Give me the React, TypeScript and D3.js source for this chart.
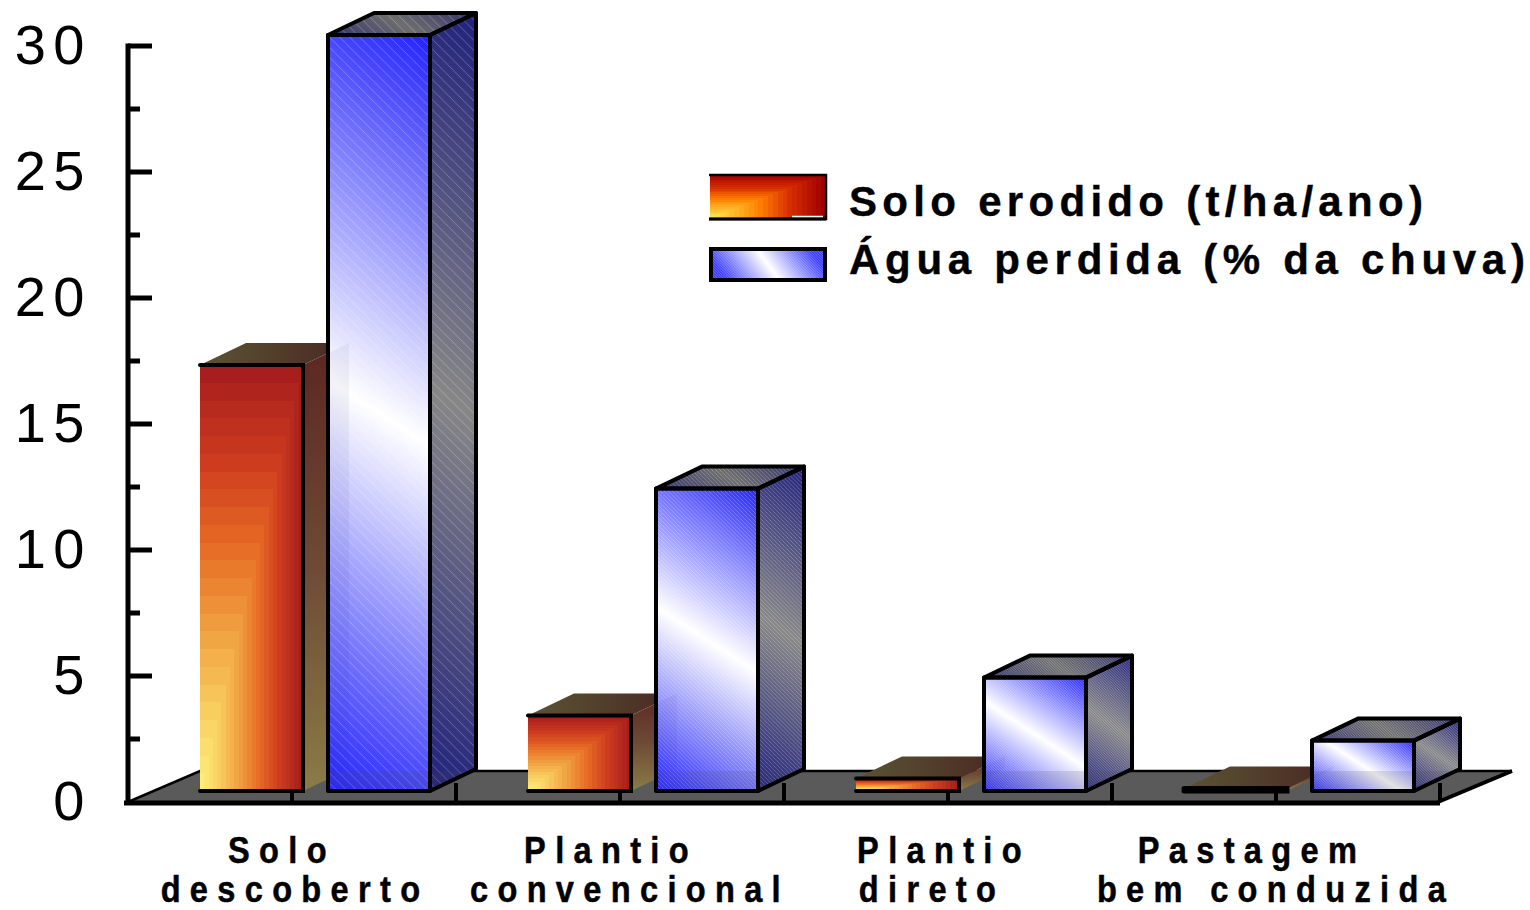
import React from "react";
import * as d3 from "d3";

// Erosion results per soil-management system
const categories = ["Solo descoberto", "Plantio convencional", "Plantio direto", "Pastagem bem conduzida"];
const categoryLines = [["Solo", "descoberto"], ["Plantio", "convencional"], ["Plantio", "direto"], ["Pastagem", "bem conduzida"]];
const firstLineNudge = [-10, -9, -4, -24];
const secondLineNudge = [3, 10, -16, 0];
const soilLoss = [16.9, 3, 0.5, 0.1];
const waterLoss = [30, 12, 4.5, 2];
const yTicks = [0, 5, 10, 15, 20, 25, 30];
const yMinorTicks = [2.5, 7.5, 12.5, 17.5, 22.5, 27.5];
const legendLabels = ["Solo erodido (t/ha/ano)", "Água perdida (% da chuva)"];
const legendSpacing = [5.3, 5.7];

const W = 1530, H = 910;
const axisX = 128, plotRight = 1440, floorY = 802, axisTop = 46;
const barLift = 11;
const barDx = 46, barDy = 22;
const floorDx = 72, floorDy = 31;
const font = "'Liberation Sans', Arial, sans-serif";

const y = d3.scaleLinear().domain([0, 30]).range([floorY, axisTop]);
const x = d3.scaleBand<string>().domain(categories).range([axisX, plotRight + 0]);
const seriesX = (c: string, s: number) => (x(c) as number) + 72 + s * 128;
const barW = 103;

const barRamp = d3.scaleLinear<string>()
  .domain([0, 0.2, 0.4, 0.6, 0.8, 1])
  .range(["#fff47c", "#f8d060", "#f0a040", "#e66a24", "#cc3a1e", "#a81e1e"]);
const legendRamp = d3.scaleLinear<string>()
  .domain([0, 0.2, 0.45, 0.7, 1])
  .range(["#fff060", "#ffc030", "#ff8000", "#d83000", "#a00000"]);
const steps = d3.range(24, 0, -1).map((i) => i / 24);

const poly = (pts: number[][]) => pts.map((p) => p.join(",")).join(" ");

// End points of a diagonal gradient across a box, with iso-lines of the given slope
function diag(bx: number, by: number, w: number, h: number, slope = 0.65) {
  const n = Math.hypot(slope, 1);
  const nx = slope / n, ny = -1 / n;
  const ext = (nx * w) / 2 + (-ny * h) / 2;
  const cx = bx + w / 2, cy = by + h / 2;
  return { x1: cx - nx * ext, y1: cy - ny * ext, x2: cx + nx * ext, y2: cy + ny * ext, gradientUnits: "userSpaceOnUse" as const };
}

function Steps({ bx, by, w, h, ramp }: { bx: number; by: number; w: number; h: number; ramp: (t: number) => string }) {
  return (
    <g shapeRendering="crispEdges">
      {steps.map((t) => (
        <rect key={t} x={bx} y={by + h - h * t} width={w * t} height={h * t} fill={ramp(t)} />
      ))}
    </g>
  );
}

function Stops({ edge, mid, inset = 0 }: { edge: string; mid: string; inset?: number }) {
  return (
    <>
      <stop offset={inset} stopColor={edge} />
      <stop offset="0.5" stopColor={mid} />
      <stop offset={1 - inset} stopColor={edge} />
    </>
  );
}

function SoilBar({ c, i }: { c: string; i: number }) {
  const x0 = seriesX(c, 0);
  const base = y(0) - barLift;
  const top = y(soilLoss[i]) - barLift;
  const h = base - top;
  const x1 = x0 + barW;
  const sideId = `soilSide${i}`, topId = `soilTop${i}`;
  return (
    <g>
      <defs>
        <linearGradient id={sideId} gradientUnits="userSpaceOnUse" x1={0} y1={base} x2={0} y2={top - barDy}>
          <stop offset="0" stopColor="#8a7c46" />
          <stop offset="0.5" stopColor="#6e4a36" />
          <stop offset="1" stopColor="#5c2620" />
        </linearGradient>
        <linearGradient id={topId} gradientUnits="userSpaceOnUse" x1={x0} y1={0} x2={x1 + barDx} y2={0}>
          <stop offset="0" stopColor="#5a5434" />
          <stop offset="1" stopColor="#4a2822" />
        </linearGradient>
      </defs>
      <polygon points={poly([[x1, top], [x1 + barDx, top - barDy], [x1 + barDx, base - barDy], [x1, base]])} fill={`url(#${sideId})`} />
      <polygon points={poly([[x0, top], [x0 + barDx, top - barDy], [x1 + barDx, top - barDy], [x1, top]])} fill={`url(#${topId})`} />
      {h > 3 && <Steps bx={x0} by={top} w={barW} h={h} ramp={barRamp} />}
      <path d={`M${x0},${top}H${x1}V${base}H${x0}`} fill="none" stroke="#000" strokeWidth={h > 3 ? 4 : 5} strokeLinecap="round" />
    </g>
  );
}

function WaterBar({ c, i }: { c: string; i: number }) {
  const x0 = seriesX(c, 1);
  const base = y(0) - barLift;
  const top = y(waterLoss[i]) - barLift;
  const h = base - top;
  const x1 = x0 + barW - 1;
  const w = x1 - x0;
  const front = poly([[x0, top], [x1, top], [x1, base], [x0, base]]);
  const side = poly([[x1, top], [x1 + barDx, top - barDy], [x1 + barDx, base - barDy], [x1, base]]);
  const cap = poly([[x0, top], [x0 + barDx, top - barDy], [x1 + barDx, top - barDy], [x1, top]]);
  const hatch = Math.max(2.6, h / 75);
  const soilX1 = seriesX(c, 0) + barW;
  const soilTop = y(soilLoss[i]) - barLift;
  const behind = poly([[soilX1, soilTop], [soilX1 + barDx, soilTop - barDy], [soilX1 + barDx, base - barDy], [soilX1, base]]);
  const floorBack = floorY - floorDy;
  return (
    <g>
      <defs>
        <linearGradient id={`wf${i}`} {...diag(x0, top, w, h)}><Stops edge="#2222ff" mid="#ffffff" /></linearGradient>
        <linearGradient id={`ws${i}`} {...diag(x1, top - barDy, barDx, h + barDy)}><Stops edge="#20207c" mid="#878787" /></linearGradient>
        <linearGradient id={`wt${i}`} {...diag(x0, top - barDy, w + barDx, barDy)}><Stops edge="#30306c" mid="#6e6e6e" /></linearGradient>
        <pattern id={`wh${i}`} patternUnits="userSpaceOnUse" width={hatch} height={hatch}>
          <path d={`M0,0L${hatch},${hatch}`} stroke="#fff" strokeOpacity={0.38} strokeWidth={0.7} />
        </pattern>
        <clipPath id={`wc${i}`}><polygon points={front} /><polygon points={side} /></clipPath>
        <clipPath id={`wcf${i}`}><polygon points={front} /></clipPath>
      </defs>
      <polygon points={side} fill={`url(#ws${i})`} />
      <polygon points={cap} fill={`url(#wt${i})`} />
      <polygon points={front} fill={`url(#wf${i})`} />
      <polygon points={side} fill={`url(#wh${i})`} />
      <polygon points={cap} fill={`url(#wh${i})`} />
      <polygon points={front} fill={`url(#wh${i})`} />
      {/* Faint see-through of the neighbouring bar and the floor behind this one */}
      <polygon points={behind} fill="#303070" fillOpacity={0.06} clipPath={`url(#wcf${i})`} />
      <rect x={x0} y={floorBack} width={w + barDx} height={base - floorBack} fill="#505050" fillOpacity={0.16} clipPath={`url(#wc${i})`} />
      <g fill="none" stroke="#000" strokeWidth={4} strokeLinejoin="round">
        <polygon points={side} />
        <polygon points={cap} />
        <polygon points={front} />
      </g>
    </g>
  );
}

// Bold label squeezed horizontally, with open tracking between the letters
function CategoryLine({ px, py, text }: { px: number; py: number; text: string }) {
  return (
    <text transform={`translate(${px},${py}) scale(0.88,1)`} fontFamily={font} fontWeight="bold" fontSize={37} letterSpacing={10.6} textAnchor="middle" fill="#000" stroke="#000" strokeWidth={0.5}>
      {text}
    </text>
  );
}

export default function App() {
  const base = y(0);
  const back = base - floorDy;
  const xTicks = d3.range(0, 8).map((k) => axisX + (x.step() / 2) * (k + 1));
  return (
    <svg width={W} height={H} viewBox={`0 0 ${W} ${H}`} style={{ position: "absolute", left: 0, top: 0, background: "#fff" }}>
      <defs>
        <linearGradient id="legendWater" {...diag(710, 248, 116, 33, 1.4)}><Stops edge="#3a3aff" mid="#ffffff" inset={0.12} /></linearGradient>
        <pattern id="legendHatch" patternUnits="userSpaceOnUse" width={2.6} height={2.6}>
          <path d="M0,0L2.6,2.6" stroke="#fff" strokeOpacity={0.35} strokeWidth={0.7} />
        </pattern>
      </defs>

      {/* Floor of the 3D plot */}
      <polygon points={poly([[axisX, base], [axisX + floorDx, back], [plotRight + floorDx, back], [plotRight, base]])} fill="#5a5a5a" />
      <path d={`M${axisX},${base}L${axisX + floorDx},${back}H${plotRight + floorDx}`} fill="none" stroke="#000" strokeWidth={2.5} />
      <path d={`M${plotRight + floorDx},${back}L${plotRight - 2},${base}`} fill="none" stroke="#000" strokeWidth={4} />
      {xTicks.map((t) => (
        <line key={t} x1={t} x2={t} y1={base - 19} y2={base} stroke="#000" strokeWidth={4} />
      ))}
      <line x1={axisX - 4} x2={plotRight} y1={base + 1} y2={base + 1} stroke="#000" strokeWidth={5} />

      {/* Y axis */}
      <line x1={axisX} x2={axisX} y1={axisTop - 2.5} y2={base + 3} stroke="#000" strokeWidth={5} />
      {yTicks.slice(1).map((t) => (
        <line key={t} x1={axisX} x2={axisX + 24} y1={y(t)} y2={y(t)} stroke="#000" strokeWidth={5} />
      ))}
      {yMinorTicks.map((t) => (
        <line key={t} x1={axisX} x2={axisX + 12} y1={y(t)} y2={y(t)} stroke="#000" strokeWidth={5} />
      ))}
      {yTicks.map((t) => (
        <text key={t} x={92} y={y(t) + 18} textAnchor="end" fontFamily={font} fontSize={56} letterSpacing={7.5} fill="#000">{t}</text>
      ))}

      {/* Paired 3D bars */}
      {categories.map((c, i) => (
        <g key={c}>
          <SoilBar c={c} i={i} />
          <WaterBar c={c} i={i} />
        </g>
      ))}

      {/* Category labels */}
      {categoryLines.map((lines, i) => {
        const tick = (x(categories[i]) as number) + x.bandwidth() / 2;
        return (
          <g key={i}>
            <CategoryLine px={tick + firstLineNudge[i]} py={863} text={lines[0]} />
            <CategoryLine px={tick + secondLineNudge[i]} py={902} text={lines[1]} />
          </g>
        );
      })}

      {/* Legend */}
      <Steps bx={710} by={174} w={116} h={44} ramp={legendRamp} />
      <path d="M709,175H826V219H709" fill="none" stroke="#000" strokeWidth={2.5} />
      <line x1={709} x2={826} y1={219} y2={219} stroke="#000" strokeWidth={3} />
      <line x1={792} x2={823} y1={216.5} y2={216.5} stroke="#fff" strokeWidth={1.5} />
      <rect x={711} y={249} width={114} height={31} fill="url(#legendWater)" stroke="#000" strokeWidth={4} />
      <rect x={713} y={251} width={110} height={27} fill="url(#legendHatch)" />
      <g fontFamily={font} fontWeight="bold" fontSize={42} fill="#000" stroke="#000" strokeWidth={0.4}>
        <text x={849} y={216} letterSpacing={legendSpacing[0]}>{legendLabels[0]}</text>
        <text x={849} y={274} letterSpacing={legendSpacing[1]}>{legendLabels[1]}</text>
      </g>
    </svg>
  );
}
